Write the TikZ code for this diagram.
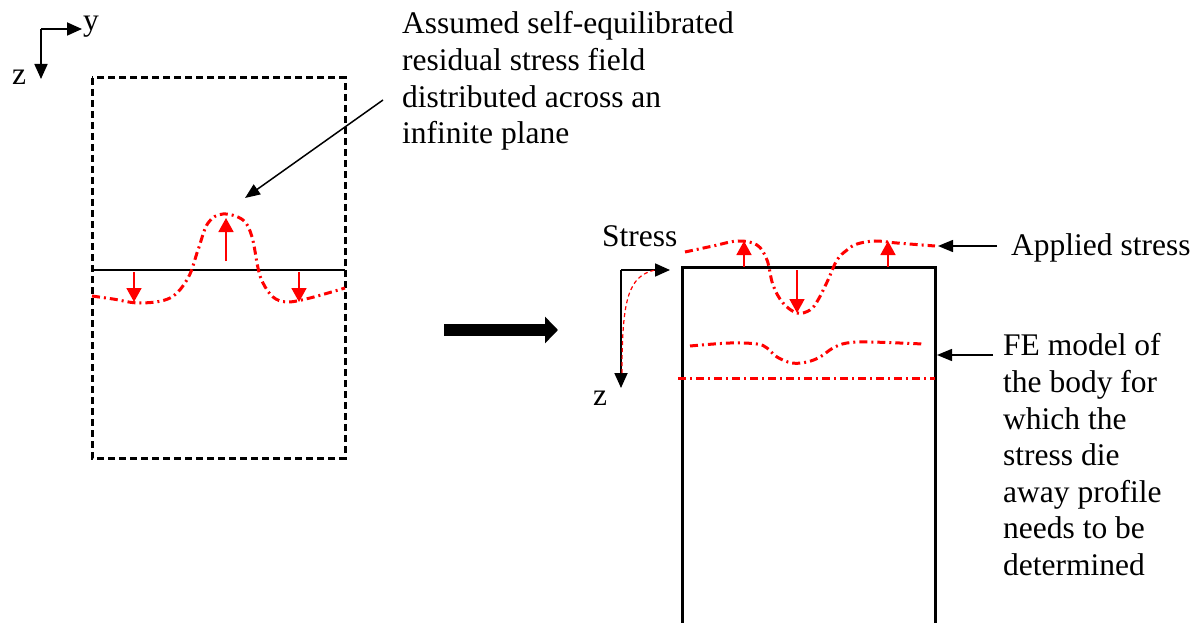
\documentclass[tikz,border=0pt]{standalone}
\usepackage{fontspec}
\setmainfont{Liberation Serif}
\newfontfamily\figfont{Liberation Serif}
\usepackage{xcolor}
\usepackage{tikz}
\usetikzlibrary{arrows.meta, positioning, calc}
\definecolor{stressred}{RGB}{255, 0, 0}

\begin{document}
\begin{tikzpicture}[
    x=1pt, y=-1pt,
    txt/.style={inner sep=0pt, font=\figfont\fontsize{31.5}{36.6}\selectfont},
    note/.style={txt, align=left, anchor=north west},
    axis/.style={line width=1.8pt, -{Triangle[length=15pt,width=13pt]}},
    pointer/.style={line width=1.5pt, -{Triangle[length=15pt,width=12pt]}},
    profile/.style={stressred, line width=3pt, dash pattern=on 8pt off 4pt on 2pt off 4pt},
    load/.style={stressred, line width=1.8pt, -{Triangle[length=14pt,width=15pt]}},
]
\useasboundingbox (0,0) rectangle (1203,623);

% left: infinite plane
\coordinate (ax0) at (41,29);
\coordinate (axy) at (82,29);
\coordinate (axz) at (41,79);
\draw[axis] (ax0) -- (axy);
\draw[axis] (ax0) -- (axz);
\node[txt, anchor=base west] (ylab) at (83,31) {y};
\node[txt, anchor=base] (zlab) at (19,85) {z};

\draw[line width=3pt, dash pattern=on 7pt off 4pt] (92,78) rectangle (345,458);
\draw[line width=1.8pt] (92,270) -- (345,270);

\draw[profile] plot[smooth, tension=0.6] coordinates {
    (92,296) (113,299) (140,303) (170,298) (188,278) (198,250) (208,223)
    (223,214) (243,220) (252,237) (258,268) (263,283) (273,297) (287,302)
    (310,298) (345,288)};

\coordinate (l1a) at (226,261);  \coordinate (l1b) at (226,218);
\coordinate (l2a) at (134,272);  \coordinate (l2b) at (134,302);
\coordinate (l3a) at (299,272);  \coordinate (l3b) at (299,302);
\draw[load] (l1a) -- (l1b);
\draw[load] (l2a) -- (l2b);
\draw[load] (l3a) -- (l3b);

\node[note] (field) at (402,11.5) {Assumed self-equilibrated\\residual stress field\\distributed across an\\infinite plane};
\coordinate (fieldtail) at (383,100);
\coordinate (fieldtip) at (245,198);
\draw[pointer] (fieldtail) -- (fieldtip);

% transfer arrow
\coordinate (go1) at (444,330);
\coordinate (go2) at (558,330);
\draw[line width=12pt, -{Triangle[length=13pt,width=26pt]}] (go1) -- (go2);

% right: FE model
\draw[line width=3pt] (682,623) -- (682,267) -- (935,267) -- (935,623);

\coordinate (sx0) at (621,270);
\coordinate (sxs) at (670,270);
\coordinate (sxz) at (621,388);
\draw[axis] (sx0) -- (sxs);
\draw[axis] (sx0) -- (sxz);
\node[txt, anchor=base west] (stresslab) at (602,246) {Stress};
\node[txt, anchor=base] (zlab2) at (600,405) {z};
\draw[stressred, line width=1.2pt, dash pattern=on 4pt off 3pt]
    (622,373) .. controls (622,300) and (628,276) .. (655,270);

\draw[profile] plot[smooth, tension=0.6] coordinates {
    (685,252) (713,246) (738,241) (757,245) (767,260) (773,285) (783,303)
    (797,313) (810,310) (818,300) (828,280) (837,260) (847,250) (857,244)
    (875,241) (897,243) (935,246)};
\draw[profile] plot[smooth, tension=0.6] coordinates {
    (690,346) (730,343) (757,344) (767,348) (777,357) (792,363) (807,362)
    (820,357) (833,348) (847,343) (870,342) (923,344)};
\draw[profile] (678,378) -- (935,378);

\coordinate (r1a) at (744,267);  \coordinate (r1b) at (744,241);
\coordinate (r2a) at (888,267);  \coordinate (r2b) at (888,241);
\coordinate (r3a) at (797,270);  \coordinate (r3b) at (797,313);
\draw[load] (r1a) -- (r1b);
\draw[load] (r2a) -- (r2b);
\draw[load] (r3a) -- (r3b);

\node[txt, anchor=base west] (applied) at (1011,255) {Applied stress};
\coordinate (apptail) at (997,246);
\coordinate (apptip) at (938,246);
\draw[pointer] (apptail) -- (apptip);

\node[note] (femodel) at (1003,333.5) {FE model of\\the body for\\which the\\stress die\\away profile\\needs to be\\determined};
\coordinate (fetail) at (993,355);
\coordinate (fetip) at (937,355);
\draw[pointer] (fetail) -- (fetip);

\end{tikzpicture}
\end{document}
